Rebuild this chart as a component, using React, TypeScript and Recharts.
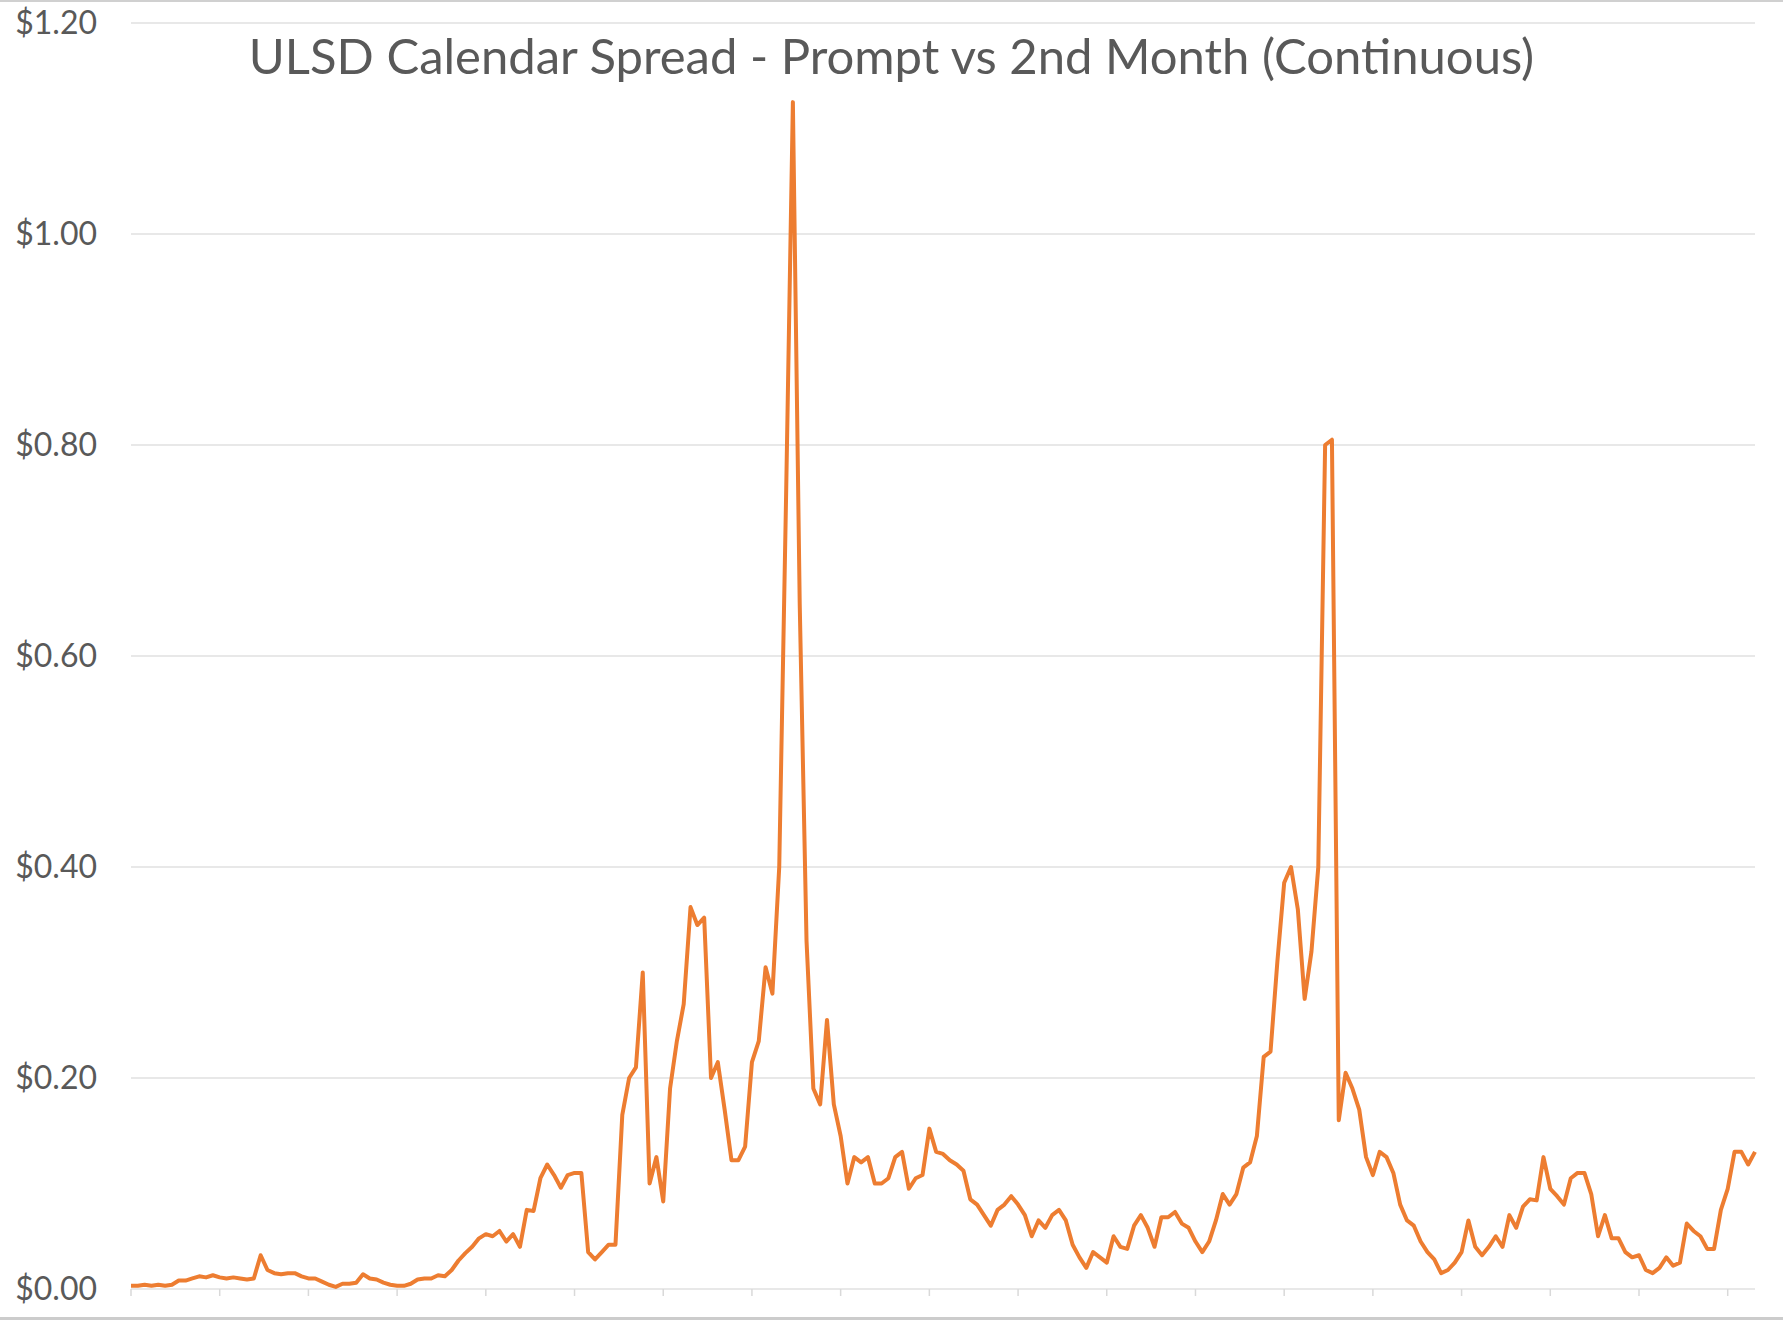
import React from "react";
import { LineChart, Line, XAxis, YAxis, CartesianGrid } from "recharts";

const chartTitle = "ULSD Calendar Spread - Prompt vs 2nd Month (Continuous)";
const yTicks = [0, 0.2, 0.4, 0.6, 0.8, 1.0, 1.2];

// Prompt vs 2nd month spread ($/gal)
const spread = [
  0.003, 0.003, 0.004, 0.003, 0.004, 0.003, 0.004, 0.008, 0.008, 0.010,
  0.012, 0.011, 0.013, 0.011, 0.010, 0.011, 0.010, 0.009, 0.010, 0.032,
  0.018, 0.015, 0.014, 0.015, 0.015, 0.012, 0.010, 0.010, 0.007, 0.004,
  0.002, 0.005, 0.005, 0.006, 0.014, 0.010, 0.009, 0.006, 0.004, 0.003,
  0.003, 0.005, 0.009, 0.010, 0.010, 0.013, 0.012, 0.018, 0.027, 0.034,
  0.040, 0.048, 0.052, 0.050, 0.055, 0.045, 0.052, 0.040, 0.075, 0.074,
  0.105, 0.118, 0.108, 0.096, 0.108, 0.110, 0.110, 0.035, 0.028, 0.035,
  0.042, 0.042, 0.165, 0.200, 0.210, 0.300, 0.100, 0.125, 0.083, 0.190,
  0.235, 0.270, 0.362, 0.345, 0.352, 0.200, 0.215, 0.170, 0.122, 0.122,
  0.135, 0.215, 0.235, 0.305, 0.280, 0.400, 0.750, 1.125, 0.650, 0.330,
  0.190, 0.175, 0.255, 0.175, 0.145, 0.100, 0.125, 0.120, 0.125, 0.100,
  0.100, 0.105, 0.125, 0.130, 0.095, 0.105, 0.108, 0.152, 0.130, 0.128,
  0.122, 0.118, 0.112, 0.085, 0.080, 0.070, 0.060, 0.075, 0.080, 0.088,
  0.080, 0.070, 0.050, 0.065, 0.058, 0.070, 0.075, 0.065, 0.042, 0.030,
  0.020, 0.035, 0.030, 0.025, 0.050, 0.040, 0.038, 0.060, 0.070, 0.058,
  0.040, 0.068, 0.068, 0.073, 0.062, 0.058, 0.045, 0.035, 0.045, 0.065,
  0.090, 0.080, 0.090, 0.115, 0.120, 0.145, 0.220, 0.225, 0.310, 0.385,
  0.400, 0.360, 0.275, 0.320, 0.400, 0.800, 0.805, 0.160, 0.205, 0.190,
  0.170, 0.125, 0.108, 0.130, 0.125, 0.110, 0.080, 0.065, 0.060, 0.045,
  0.035, 0.028, 0.015, 0.018, 0.025, 0.035, 0.065, 0.040, 0.032, 0.040,
  0.050, 0.040, 0.070, 0.058, 0.078, 0.085, 0.084, 0.125, 0.095, 0.088,
  0.080, 0.105, 0.110, 0.110, 0.090, 0.050, 0.070, 0.048, 0.048, 0.035,
  0.030, 0.032, 0.018, 0.015, 0.020, 0.030, 0.022, 0.025, 0.062, 0.055,
  0.050, 0.038, 0.038, 0.075, 0.095, 0.130, 0.130, 0.118, 0.130,
];

const weeks = spread.map((_, i) => `W${i + 1}`);
const data = weeks.map((w, i) => ({ week: w, spread: spread[i] }));

const fmt = (v: number) => `$${v.toFixed(2)}`;

export default function App() {
  return (
    <div
      style={{
        position: "absolute",
        left: 0,
        top: 0,
        width: 1783,
        height: 1320,
        background: "#ffffff",
        overflow: "hidden",
        fontFamily: "Lato, 'Open Sans', sans-serif",
      }}
    >
      <LineChart
        width={1783}
        height={1320}
        data={data}
        margin={{ top: 23, right: 28, bottom: 0, left: 0 }}
      >
        <CartesianGrid vertical={false} stroke="#e0e0e0" strokeWidth={1.5} />
        <XAxis
          dataKey="week"
          interval={12}
          tickFormatter={() => ""}
          tickLine={{ stroke: "#d9d9d9", strokeWidth: 1.5 }}
          axisLine={false}
          tickSize={7}
          height={31}
        />
        <YAxis
          domain={[0, 1.2]}
          ticks={yTicks}
          width={131}
          axisLine={false}
          tickLine={false}
          tickMargin={28}
          tickFormatter={fmt}
          tick={{ fill: "#595959", fontSize: 32, fontFamily: "Lato, sans-serif" }}
        />
        <Line
          type="linear"
          dataKey="spread"
          stroke="#ED7D31"
          strokeWidth={4}
          strokeLinejoin="round"
          dot={false}
          isAnimationActive={false}
        />
      </LineChart>
      <div
        style={{
          position: "absolute",
          left: 0,
          top: 31,
          width: 1783,
          textAlign: "center",
          fontSize: 49,
          lineHeight: 1,
          color: "#595959",
          whiteSpace: "nowrap",
        }}
      >
        {chartTitle}
      </div>
      <div style={{ position: "absolute", left: 0, top: 0, width: 1783, height: 2, background: "#d0d0d0" }} />
      <div style={{ position: "absolute", left: 0, top: 1317, width: 1783, height: 3, background: "#cccccc" }} />
    </div>
  );
}
